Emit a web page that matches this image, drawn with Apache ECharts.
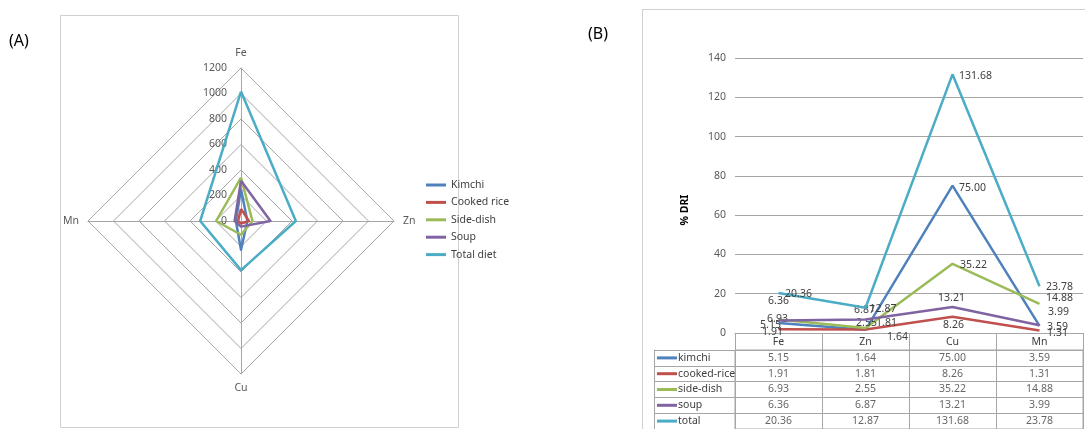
<!DOCTYPE html>
<html>
<head>
<meta charset="utf-8">
<script src="https://cdn.jsdelivr.net/npm/echarts@6/dist/echarts.min.js"></script>
<style>
html,body{margin:0;padding:0;background:#fff;}
#c{width:1085px;height:429px;}
</style>
</head>
<body>
<div id="c"></div>
<script>
// ---------- data ----------
const metals = ['Fe', 'Zn', 'Cu', 'Mn'];

// (A) radar values
const radarNames = ['Kimchi', 'Cooked rice', 'Side-dish', 'Soup', 'Total diet'];
const radarKimchi = [250, 50, 225, 40];
const radarRice = [95, 62, 20, 23];
const radarSide = [340, 90, 108, 195];
const radarSoup = [316, 231, 44, 50];
const radarTotal = [1015, 430, 385, 320];
const radarMax = 1200;

// (B) % DRI
const tableNames = ['kimchi', 'cooked-rice', 'side-dish', 'soup', 'total'];
const driKimchi = [5.15, 1.64, 75.00, 3.59];
const driRice = [1.91, 1.81, 8.26, 1.31];
const driSide = [6.93, 2.55, 35.22, 14.88];
const driSoup = [6.36, 6.87, 13.21, 3.99];
const driTotal = [20.36, 12.87, 131.68, 23.78];
const yMax = 140, yStep = 20;

// ---------- styles ----------
const colors = ['#4F81BD', '#C0504D', '#9BBB59', '#8064A2', '#4BACC6'];
const font = 'Noto Sans';
const fs = 10.5;
const labelOffsets = [
  [[-8, 2], [32, 7], [20, 2], [18, 1]],
  [[-6, 3], [21, -6], [1, 8], [18, 3]],
  [[-1, 0], [1, -5], [21, 1], [20, -6]],
  [[0, -19], [-1, -9.5], [-1, -9], [19, -13]],
  [[20, 1], [17.5, 1], [23, 2], [20, 1]]
];

const radarSets = [radarKimchi, radarRice, radarSide, radarSoup, radarTotal];
const driSets = [driKimchi, driRice, driSide, driSoup, driTotal];

// ECharts radar goes counter-clockwise; Excel goes clockwise: Fe, Zn, Cu, Mn
const radarOrder = [0, 3, 2, 1]; // Fe, Mn, Cu, Zn
const gridColor = '#a6a6a6';

const indicators = radarOrder.map((i, k) => {
  const o = { name: metals[i], min: 0, max: radarMax };
  if (k === 0) {
    o.axisLabel = { show: true, color: '#595959', fontSize: fs, fontFamily: font, margin: 14,
      formatter: v => String(v) };
  }
  return o;
});

const rich = { t: { fontSize: fs, color: '#404040', fontFamily: font, padding: [0, 0, 0, 1] } };
colors.forEach((c, i) => { rich['l' + i] = { width: 20, height: 3, backgroundColor: c }; });

const tableData = [];
driSets.forEach((arr, r) => arr.forEach((v, c) => tableData.push([c, r, v])));

const lineSeries = driSets.map((arr, s) => ({
  type: 'line',
  name: tableNames[s],
  xAxisIndex: 0, yAxisIndex: 0,
  symbol: 'circle', symbolSize: 0,
  lineStyle: { color: colors[s], width: 2.5 },
  itemStyle: { color: colors[s] },
  data: arr.map((v, i) => ({
    value: v,
    label: { offset: labelOffsets[s][i] }
  })),
  label: {
    show: true, position: 'inside', align: 'center', verticalAlign: 'middle',
    color: '#404040', fontSize: fs, fontFamily: font,
    formatter: p => p.value.toFixed(2)
  },
  z: 3 + s
}));

const option = {
  animation: false,
  backgroundColor: '#fff',
  textStyle: { fontFamily: font },
  graphic: [
    { type: 'rect', shape: { x: 60.5, y: 15.5, width: 398, height: 412 },
      style: { fill: 'none', stroke: '#d0d0d0', lineWidth: 1 }, silent: true },
    { type: 'rect', shape: { x: 642.5, y: 9.5, width: 500, height: 500 },
      style: { fill: 'none', stroke: '#d0d0d0', lineWidth: 1 }, silent: true },
    { type: 'text', left: 9, top: 33, style: { text: '(A)', fontSize: 16, fill: '#000', fontFamily: font } },
    { type: 'text', left: 588, top: 26, style: { text: '(B)', fontSize: 16, fill: '#000', fontFamily: font } }
  ],
  legend: {
    orient: 'vertical',
    left: 426, top: 178, padding: 0,
    data: radarNames,
    itemWidth: 20, itemHeight: 3, itemGap: 3.4,
    icon: 'rect',
    textStyle: { color: '#404040', fontSize: fs, fontFamily: font, lineHeight: 14 },
    selectedMode: false
  },
  radar: {
    center: [241, 221],
    radius: 153,
    startAngle: 90,
    shape: 'polygon',
    splitNumber: 6,
    indicator: indicators,
    axisName: { color: '#595959', fontSize: fs, fontFamily: font },
    nameGap: 9,
    axisLine: { lineStyle: { color: gridColor, width: 1 } },
    splitLine: { lineStyle: { color: gridColor, width: 1 } },
    splitArea: { show: false },
    axisLabel: { show: false }
  },
  grid: [
    { left: 735, right: 2, top: 58, bottom: 96 },
    { left: 735, right: 2, top: 350, height: 84, show: true, borderColor: gridColor, borderWidth: 1 }
  ],
  xAxis: [
    {
      type: 'category', gridIndex: 0, data: metals, boundaryGap: true,
      axisLine: { lineStyle: { color: gridColor } },
      axisTick: { show: true, length: 17, interval: 0, lineStyle: { color: gridColor } },
      axisLabel: { color: '#404040', fontSize: fs, fontFamily: font, margin: 4, interval: 0 }
    },
    {
      type: 'category', gridIndex: 1, data: metals, boundaryGap: true,
      axisLine: { show: false }, axisTick: { show: false }, axisLabel: { show: false },
      splitLine: { show: true, interval: 0, lineStyle: { color: gridColor } }
    }
  ],
  yAxis: [
    {
      type: 'value', gridIndex: 0, min: 0, max: yMax, interval: yStep,
      name: '% DRI', nameLocation: 'middle', nameGap: 44, nameRotate: 90,
      nameTextStyle: { fontWeight: 'bold', fontSize: fs, color: '#000', fontFamily: font, padding: [0, 29, 0, 0] },
      axisLine: { show: false }, axisTick: { show: false },
      axisLabel: { color: '#595959', fontSize: fs, fontFamily: font, margin: 9 },
      splitLine: { lineStyle: { color: gridColor } }
    },
    {
      type: 'category', gridIndex: 1, data: tableNames, inverse: true, boundaryGap: true,
      axisLine: { show: true, lineStyle: { color: gridColor } },
      axisTick: { show: true, length: 81, interval: 0, lineStyle: { color: gridColor } },
      axisLabel: {
        align: 'left', margin: 78, interval: 0,
        formatter: (v, i) => '{l' + i + '|}{t|' + v + '}',
        rich: rich
      },
      splitLine: { show: true, interval: 0, lineStyle: { color: gridColor } }
    },
    {
      type: 'category', gridIndex: 1, data: tableNames, inverse: true, offset: 81, position: 'left',
      axisLine: { show: true, lineStyle: { color: gridColor } },
      axisTick: { show: false }, axisLabel: { show: false }, splitLine: { show: false }
    }
  ],
  series: [
    {
      type: 'radar',
      symbol: 'none',
      data: radarSets.map((arr, s) => ({
        name: radarNames[s],
        value: radarOrder.map(i => arr[i]),
        lineStyle: { color: colors[s], width: 2.5 },
        itemStyle: { color: colors[s] }
      }))
    },
    ...lineSeries,
    {
      type: 'scatter', xAxisIndex: 1, yAxisIndex: 1,
      symbolSize: 0,
      data: tableData,
      encode: { x: 0, y: 1 },
      label: {
        show: true, position: 'inside', color: '#404040', fontSize: fs, fontFamily: font,
        formatter: p => p.value[2].toFixed(2)
      }
    }
  ]
};

const chart = echarts.init(document.getElementById('c'), null, { renderer: 'canvas' });
chart.setOption(option);
</script>
</body>
</html>
